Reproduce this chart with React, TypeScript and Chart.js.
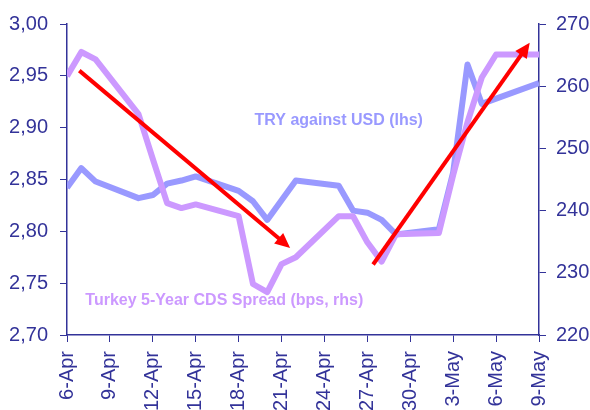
import React, { useEffect, useRef } from "react";
import { Chart, registerables } from "chart.js";

Chart.register(...registerables);

// Day offsets from 6-Apr (trading days only)
const tradingDays = [0, 1, 2, 5, 6, 7, 8, 9, 12, 13, 14, 15, 16, 19, 20, 21, 22, 23, 26, 27, 28, 29, 30, 33];
const tryUsd = [2.842, 2.861, 2.848, 2.832, 2.835, 2.846, 2.849, 2.853, 2.839, 2.829, 2.811, 2.830, 2.849, 2.844, 2.820, 2.818, 2.811, 2.797, 2.802, 2.857, 2.961, 2.923, 2.928, 2.943];
const cdsSpread = [261.6, 265.5, 264.3, 255.5, 248.3, 241.2, 240.4, 241.0, 239.1, 228.2, 226.9, 231.4, 232.5, 239.1, 239.1, 234.9, 231.8, 236.2, 236.4, 245.7, 254.2, 261.4, 265.1, 265.1];
const xTickLabels = ["6-Apr", "9-Apr", "12-Apr", "15-Apr", "18-Apr", "21-Apr", "24-Apr", "27-Apr", "30-Apr", "3-May", "6-May", "9-May"];
const leftTicks = [2.7, 2.75, 2.8, 2.85, 2.9, 2.95, 3.0];
const rightTicks = [220, 230, 240, 250, 260, 270];

// Trend arrows: [startDay, startValue(lhs), endDay, endValue(lhs)]
const trendArrows = [
  [0.86, 2.955, 15.6, 2.784],
  [21.4, 2.768, 32.35, 2.982],
];
// Series labels: [text, centerDay, value(lhs), color]
const seriesLabels: [string, number, number, string][] = [
  ["TRY against USD (lhs)", 19.0, 2.907, "#9999FF"],
  ["Turkey 5-Year CDS Spread (bps, rhs)", 11.0, 2.733, "#CC99FF"],
];

const AXIS = "#333399";
const FONT = "Arial, 'Liberation Sans', sans-serif";

const overlayPlugin = {
  id: "overlay",
  afterDatasetsDraw(chart: any) {
    const ctx = chart.ctx;
    const xs = chart.scales.x;
    const ys = chart.scales.y;
    ctx.save();
    ctx.font = `bold 16px ${FONT}`;
    ctx.textAlign = "center";
    ctx.textBaseline = "middle";
    for (const [t, d, v, c] of seriesLabels) {
      ctx.fillStyle = c;
      ctx.fillText(t, xs.getPixelForValue(d), ys.getPixelForValue(v));
    }
    ctx.strokeStyle = "#FF0000";
    ctx.fillStyle = "#FF0000";
    ctx.lineWidth = 4;
    for (const [d0, v0, d1, v1] of trendArrows) {
      const x0 = xs.getPixelForValue(d0);
      const y0 = ys.getPixelForValue(v0);
      const x1 = xs.getPixelForValue(d1);
      const y1 = ys.getPixelForValue(v1);
      const ang = Math.atan2(y1 - y0, x1 - x0);
      const headLen = 15;
      const headW = 7;
      const bx = x1 - headLen * Math.cos(ang);
      const by = y1 - headLen * Math.sin(ang);
      ctx.beginPath();
      ctx.moveTo(x0, y0);
      ctx.lineTo(bx + 2 * Math.cos(ang), by + 2 * Math.sin(ang));
      ctx.stroke();
      ctx.beginPath();
      ctx.moveTo(x1, y1);
      ctx.lineTo(bx + headW * Math.sin(ang), by - headW * Math.cos(ang));
      ctx.lineTo(bx - headW * Math.sin(ang), by + headW * Math.cos(ang));
      ctx.closePath();
      ctx.fill();
    }
    ctx.restore();
  },
};

export default function App() {
  const ref = useRef<HTMLCanvasElement>(null);
  useEffect(() => {
    if (!ref.current) return;
    const chart = new Chart(ref.current, {
      type: "line",
      data: {
        datasets: [
          {
            label: "Turkey 5-Year CDS Spread (bps, rhs)",
            data: tradingDays.map((d, i) => ({ x: d, y: cdsSpread[i] })),
            yAxisID: "y1",
            borderColor: "#CC99FF",
            borderWidth: 6,
            pointRadius: 0,
            tension: 0,
            borderJoinStyle: "round",
          },
          {
            label: "TRY against USD (lhs)",
            data: tradingDays.map((d, i) => ({ x: d, y: tryUsd[i] })),
            yAxisID: "y",
            borderColor: "#9999FF",
            borderWidth: 6,
            pointRadius: 0,
            tension: 0,
            borderJoinStyle: "round",
          },
        ],
      },
      options: {
        animation: false,
        responsive: false,
        maintainAspectRatio: false,
        layout: { padding: { top: 21, left: 0, right: 0, bottom: 0 } },
        plugins: { legend: { display: false }, tooltip: { enabled: false } },
        scales: {
          x: {
            type: "linear",
            min: 0,
            max: 33,
            afterBuildTicks: (s: any) => {
              s.ticks = xTickLabels.map((_, i) => ({ value: i * 3 }));
            },
            afterFit: (s: any) => {
              s.height = 75;
            },
            ticks: {
              minRotation: 90,
              maxRotation: 90,
              padding: 9,
              color: AXIS,
              font: { family: FONT, size: 20 },
              callback: (v: any) => xTickLabels[Math.round(Number(v) / 3)] ?? "",
            },
            grid: { drawOnChartArea: false, tickLength: 7, color: AXIS },
            border: { color: AXIS, width: 1.5 },
          },
          y: {
            position: "left",
            min: 2.7,
            max: 3.0,
            afterBuildTicks: (s: any) => {
              s.ticks = leftTicks.map((v) => ({ value: v }));
            },
            afterFit: (s: any) => {
              s.width = 67;
            },
            ticks: {
              padding: 12,
              color: AXIS,
              font: { family: FONT, size: 20 },
              callback: (v: any) => Number(v).toFixed(2).replace(".", ","),
            },
            grid: { drawOnChartArea: false, tickLength: 7, color: AXIS },
            border: { color: AXIS, width: 1.5 },
          },
          y1: {
            position: "right",
            min: 220,
            max: 270,
            afterBuildTicks: (s: any) => {
              s.ticks = rightTicks.map((v) => ({ value: v }));
            },
            afterFit: (s: any) => {
              s.width = 51;
            },
            ticks: {
              padding: 10,
              color: AXIS,
              font: { family: FONT, size: 20 },
              callback: (v: any) => String(v),
            },
            grid: { drawOnChartArea: false, tickLength: 7, color: AXIS },
            border: { color: AXIS, width: 1.5 },
          },
        },
      },
      plugins: [overlayPlugin],
    } as any);
    return () => chart.destroy();
  }, []);
  return (
    <div style={{ position: "fixed", left: 0, top: 0, width: 590, height: 410, background: "#fff" }}>
      <canvas ref={ref} width={590} height={410} style={{ width: 590, height: 410 }} />
    </div>
  );
}
